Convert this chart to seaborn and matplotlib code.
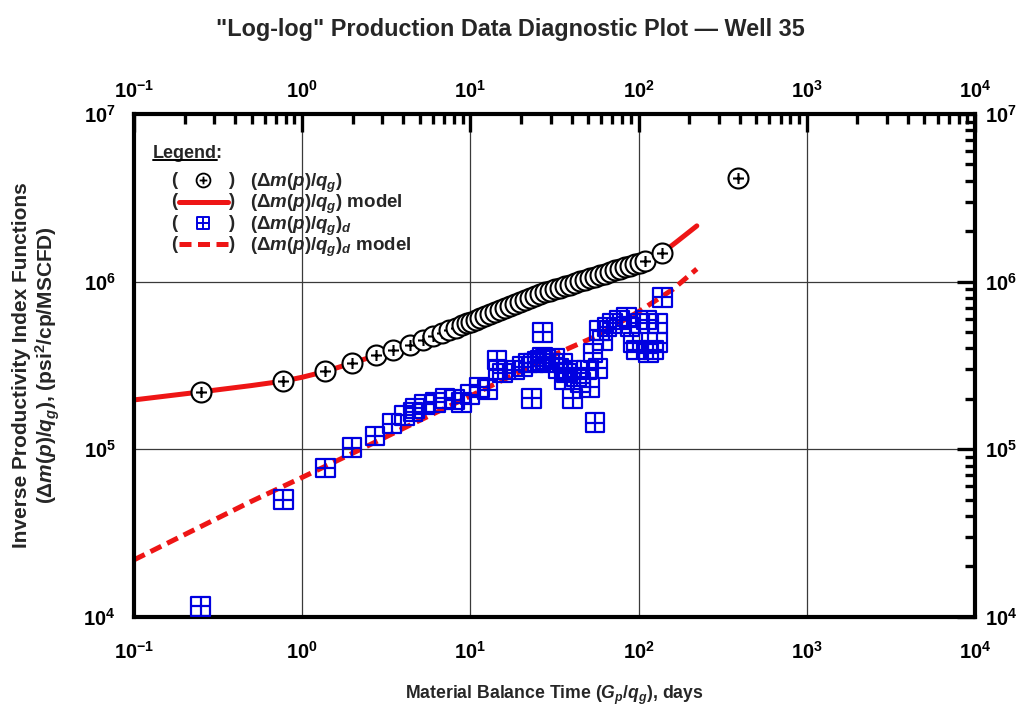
import numpy as np
import pandas as pd
import matplotlib
matplotlib.use("Agg")
import matplotlib.pyplot as plt
import seaborn as sns
from matplotlib.path import Path
from matplotlib.lines import Line2D
from matplotlib.text import Text
from matplotlib.legend_handler import HandlerBase
from matplotlib.ticker import FuncFormatter, NullFormatter, LogLocator
from matplotlib.transforms import ScaledTranslation

# ---------------- data ----------------
circle_t = [0.25, 0.77, 1.37, 1.98, 2.75, 3.47, 4.37, 5.2, 6.0, 6.8, 7.5, 8.2, 8.9, 9.5,
            10.1, 10.8, 11.4, 12.2, 13.1, 14.0, 15.0, 16.1, 17.2, 18.4, 19.7, 21.1, 22.6, 24.2,
            25.9, 27.8, 29.7, 31.8, 34.1, 36.5, 39.1, 41.9, 44.9, 48.0, 51.4, 55.1, 58.9, 63.1,
            67.6, 72.4, 77.5, 83.0, 88.9, 95.2, 102, 109, 138, 390]
circle_v = [2.20e5, 2.55e5, 2.93e5, 3.27e5, 3.65e5, 3.91e5, 4.19e5, 4.48e5, 4.72e5, 4.95e5,
            5.14e5, 5.32e5, 5.49e5, 5.63e5, 5.77e5, 5.92e5, 6.05e5, 6.21e5, 6.39e5, 6.57e5,
            6.75e5, 6.95e5, 7.13e5, 7.33e5, 7.53e5, 7.74e5, 7.96e5, 8.18e5, 8.40e5, 8.63e5,
            8.81e5, 9.0e5, 9.2e5, 9.4e5, 9.6e5, 9.82e5, 1.003e6, 1.024e6, 1.047e6, 1.069e6,
            1.092e6, 1.116e6, 1.14e6, 1.166e6, 1.19e6, 1.217e6, 1.244e6, 1.271e6, 1.30e6,
            1.33e6, 1.48e6, 4.15e6]

square_t = [0.25, 0.77, 1.37, 1.98, 2.71, 3.42, 4.08, 4.56, 4.69, 5.37, 6.17, 7.07, 8.10, 8.91,
            9.95, 11.4, 12.7, 14.4, 14.6, 15.6, 18.4, 20.3, 22.0, 23.2, 23.6, 24.9, 26.0,
            27.0, 27.0, 28.0, 29.7, 31.8, 33.5, 35.5, 36.5, 37.5, 40.2, 40.7, 43.0,
            45.0, 49.3, 51.4, 53.6, 55.1, 57.4, 58.9, 61.4, 64.9, 70.4, 77.5, 85.3, 88.9, 92.7,
            97.8, 102, 112, 114, 122, 129, 130, 138]
square_v = [1.16e4, 4.99e4, 7.73e4, 1.02e5, 1.20e5, 1.42e5, 1.60e5, 1.67e5, 1.76e5, 1.86e5,
            1.91e5, 2.02e5, 1.97e5, 1.89e5, 2.11e5, 2.35e5, 2.26e5, 3.41e5, 2.97e5, 2.85e5,
            2.97e5, 3.10e5, 3.27e5, 2.02e5, 3.27e5, 3.32e5, 3.40e5, 5.0e5,
            3.55e5, 3.45e5, 3.27e5, 3.50e5, 3.05e5, 3.27e5, 2.60e5, 2.85e5, 2.97e5,
            2.02e5, 2.70e5, 2.50e5, 2.97e5, 2.35e5, 3.75e5, 1.44e5, 3.05e5, 5.14e5, 4.48e5,
            5.36e5, 5.66e5, 5.90e5, 6.15e5, 5.36e5, 4.31e5, 3.91e5, 5.66e5, 5.90e5, 3.75e5,
            3.91e5, 4.31e5, 5.66e5, 8.09e5]

model_t = [0.1, 0.25, 0.5, 0.77, 1.0, 1.37, 1.98, 4.37, 10, 27, 58.9, 100, 138, 170, 222]
model_v = [1.97e5, 2.2e5, 2.4e5, 2.55e5, 2.69e5, 2.91e5, 3.27e5, 4.19e5, 5.74e5, 8.55e5,
           1.09e6, 1.29e6, 1.48e6, 1.74e6, 2.15e6]

model_d_t = [0.1, 0.49, 1.0, 1.92, 4.81, 10, 33.2, 56.6, 102, 160, 222]
model_d_v = [2.19e4, 4.85e4, 6.8e4, 9.3e4, 1.46e5, 2.08e5, 3.75e5, 4.75e5, 6.7e5, 9.0e5, 1.19e6]

legend_title = "Legend:"
legend_labels = [r"$(\Delta m(p)/q_g)$", r"$(\Delta m(p)/q_g)$ model",
                 r"$(\Delta m(p)/q_g)_d$", r"$(\Delta m(p)/q_g)_d$ model"]

# ---------------- style ----------------
sns.set_theme(style="white")
plt.rcParams.update({
    "font.family": ["Liberation Sans", "DejaVu Sans"],
    "font.weight": "bold",
    "axes.labelweight": "bold",
    "mathtext.fontset": "custom",
    "mathtext.rm": "Liberation Sans:bold",
    "mathtext.it": "Liberation Sans:italic:bold",
    "mathtext.bf": "Liberation Sans:bold",
    "mathtext.sf": "Liberation Sans:bold",
    "mathtext.default": "it",
})

RED = "#ee1515"
BLUE = "#0000e0"

# compound markers
_circ = Path.unit_circle()
_cplus = Path([(-0.55, 0), (0.55, 0), (0, -0.55), (0, 0.55)],
              [Path.MOVETO, Path.LINETO, Path.MOVETO, Path.LINETO])
circle_plus = Path.make_compound_path(_circ, _cplus)
_sq = Path([(-1, -1), (1, -1), (1, 1), (-1, 1), (-1, -1)],
           [Path.MOVETO, Path.LINETO, Path.LINETO, Path.LINETO, Path.CLOSEPOLY])
_splus = Path([(-1, 0), (1, 0), (0, -1), (0, 1)],
              [Path.MOVETO, Path.LINETO, Path.MOVETO, Path.LINETO])
square_plus = Path.make_compound_path(_sq, _splus)

fig = plt.figure(figsize=(10.21, 7.14), dpi=100)
ax = fig.add_axes([0.1312, 0.1359, 0.8237, 0.7045])
ax.set_xscale("log")
ax.set_yscale("log")

sns.lineplot(x=model_t, y=model_v, ax=ax, color=RED, linewidth=3.6, estimator=None,
             zorder=2, legend=False)
sns.lineplot(x=model_d_t, y=model_d_v, ax=ax, color=RED, linewidth=3.6, estimator=None,
             zorder=2, legend=False)
ax.lines[-1].set_linestyle((0, (2.4, 1.3)))

sns.scatterplot(x=circle_t, y=circle_v, ax=ax, marker=circle_plus, s=207, color="white",
                edgecolor="black", linewidth=1.5, zorder=4, legend=False)
sns.scatterplot(x=square_t, y=square_v, ax=ax, marker=square_plus, s=185, facecolor="none",
                edgecolor=BLUE, linewidth=1.6, zorder=3, legend=False)

ax.set_xlim(0.1, 1e4)
ax.set_ylim(1e4, 1e7)

fmt = FuncFormatter(lambda v, p: r"$\mathrm{10^{%d}}$" % int(round(np.log10(v))))
for axis in (ax.xaxis, ax.yaxis):
    axis.set_major_locator(LogLocator(base=10, numticks=10))
    axis.set_minor_locator(LogLocator(base=10, subs=np.arange(2, 10), numticks=100))
    axis.set_major_formatter(fmt)
    axis.set_minor_formatter(NullFormatter())

ax.tick_params(which="both", direction="in", top=True, right=True, labeltop=True,
               labelright=True, colors="black")
ax.tick_params(which="major", length=13, width=2.4, labelsize=14.5)
ax.tick_params(which="minor", length=7, width=2.4)
ax.tick_params(axis="x", which="major", pad=17)
ax.tick_params(axis="y", which="major", pad=13)

for sp in ax.spines.values():
    sp.set_linewidth(3)
    sp.set_color("black")
ax.grid(True, which="major", color="#3a3a3a", linewidth=0.9)
ax.set_axisbelow(True)

ax.set_xlabel(r"Material Balance Time ($G_p/q_g$), days", fontsize=12.7)
ax.xaxis.set_label_coords(0.5, -0.132)
ax.set_ylabel("Inverse Productivity Index Functions\n"
              r"$(\Delta m(p)/q_g)$, (psi$^2$/cp/MSCFD)", fontsize=15, linespacing=1.1)
ax.yaxis.set_label_coords(-0.086, 0.5)

fig.suptitle("\"Log-log\" Production Data Diagnostic Plot \u2014 Well 35", x=0.5, y=0.958,
             va="center", fontsize=16.8, fontweight="bold")


# ---------------- legend ----------------
class ParenHandler(HandlerBase):
    def __init__(self, kind):
        super().__init__()
        self.kind = kind

    def create_artists(self, legend, orig_handle, xdescent, ydescent, width, height,
                       fontsize, trans):
        x0 = -xdescent
        cy = -ydescent + height / 2.0
        lx = x0 + 0.22 * width
        rx = x0 + width
        arts = []
        for xx, s, ha in ((lx, "(", "left"), (rx, ")", "right")):
            t = Text(xx, cy, s, ha=ha, va="center", fontsize=fontsize, fontweight="bold",
                     fontfamily="Liberation Sans")
            t.set_transform(trans)
            arts.append(t)
        a = lx + 0.12 * (rx - lx)
        b = rx - 0.12 * (rx - lx)
        cx = (lx + rx) / 2.0
        if self.kind == "circle":
            h = Line2D([cx], [cy], marker=circle_plus, markersize=10, mfc="white",
                       mec="black", mew=1.3, linestyle="none")
        elif self.kind == "square":
            h = Line2D([cx], [cy], marker=square_plus, markersize=8.5, mfc="none",
                       mec=BLUE, mew=1.4, linestyle="none")
        elif self.kind == "line":
            h = Line2D([a, b], [cy, cy], color=RED, linewidth=3.6)
        else:
            h = Line2D([a, b], [cy, cy], color=RED, linewidth=3.6,
                       linestyle=(0, (2.4, 1.3)))
        h.set_transform(trans)
        arts.append(h)
        return arts


hs = [Line2D([], []) for _ in range(4)]
kinds = ["circle", "line", "square", "dash"]
leg = ax.legend(hs, legend_labels, handler_map={h: ParenHandler(k) for h, k in zip(hs, kinds)},
                loc="upper left", bbox_to_anchor=(0.0226, 0.885), frameon=False,
                borderpad=0, borderaxespad=0,
                prop={"weight": "bold", "size": 13.5},
                handlelength=4.4, handletextpad=0.8, labelspacing=-0.1)
leg.set_zorder(6)

ttl = ax.text(0.0226, 0.921, legend_title, transform=ax.transAxes, ha="left", va="center",
              fontsize=13, fontweight="bold", zorder=6)

fig.canvas.draw()
renderer = fig.canvas.get_renderer()
bb = ttl.get_window_extent(renderer)
inv = fig.transFigure.inverted()
(x0f, y0f) = inv.transform((bb.x0, bb.y0 + 2))
(x1f, _) = inv.transform((bb.x0 + bb.width * 0.91, bb.y0))
fig.add_artist(Line2D([x0f, x1f], [y0f, y0f], color="black", linewidth=1.4,
                      transform=fig.transFigure))

# top labels sit closer to the frame than bottom ones; right labels closer than left ones
off_top = ScaledTranslation(0, -8 / 72, fig.dpi_scale_trans)
for t in ax.xaxis.get_major_ticks():
    t.label2.set_transform(t.label2.get_transform() + off_top)
off_right = ScaledTranslation(-6 / 72, 0, fig.dpi_scale_trans)
for t in ax.yaxis.get_major_ticks():
    t.label2.set_transform(t.label2.get_transform() + off_right)

fig.savefig("out.png", dpi=100)
